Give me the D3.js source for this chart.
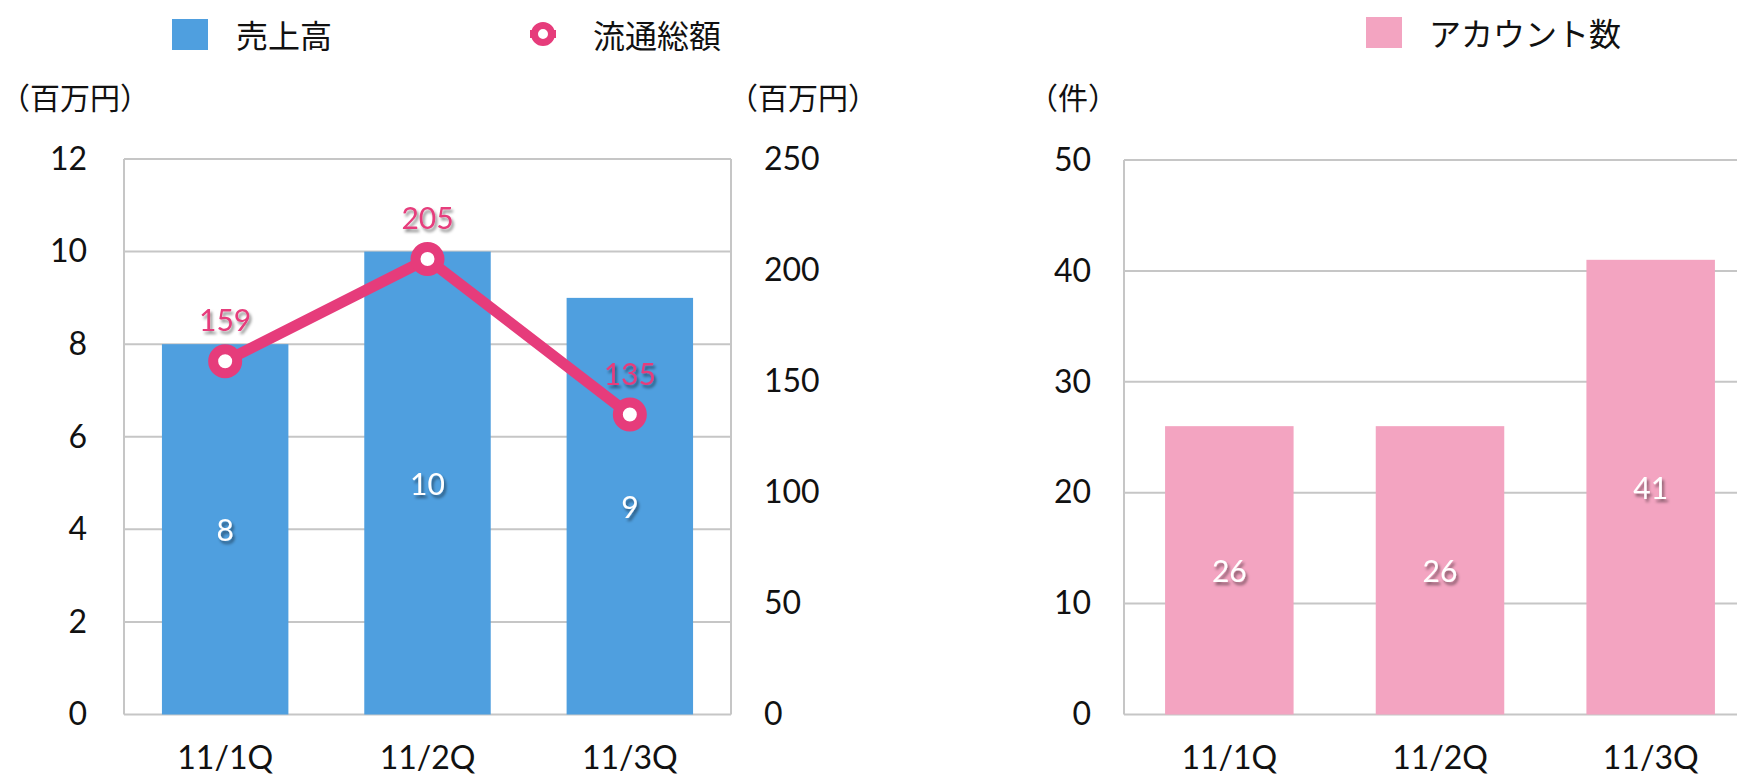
<!DOCTYPE html>
<html><head><meta charset="utf-8">
<script src="https://cdn.jsdelivr.net/npm/d3@7"></script>
<style>
body{margin:0;background:#fff;}
svg{display:block;}
</style></head>
<body><svg id="c" width="1737" height="776"></svg>
<script>
const categories = ["11/1Q","11/2Q","11/3Q"];
const salesValues = [8,10,9];          // 売上高 (百万円)
const grossValues = [159,205,135];     // 流通総額 (百万円)
const accountValues = [26,26,41];      // アカウント数 (件)
const leftTicks = [0,2,4,6,8,10,12];
const rightTicks = [0,50,100,150,200,250];
const accTicks = [0,10,20,30,40,50];

const svg = d3.select("#c");
const numFont = "Lato, 'DejaVu Sans', sans-serif";
const jpFont = "'Noto Sans CJK JP', sans-serif";
const blue = "#4F9FDF", pink = "#E63C7B", pinkBar = "#F3A4C1", grid = "#C6C6C6";
const tickSize = 32, labSize = 30;

const defs = svg.append("defs");
const f1 = defs.append("filter").attr("id","sh").attr("x","-30%").attr("y","-30%").attr("width","160%").attr("height","160%");
f1.append("feDropShadow").attr("dx",2).attr("dy",3).attr("stdDeviation",1.6).attr("flood-color","#000").attr("flood-opacity",0.45);

// ---------- Left chart ----------
const L = {x0:124, x1:731, y0:159, y1:714.5};
const xL = d3.scaleBand().domain(categories).range([L.x0,L.x1]).paddingInner(0.375).paddingOuter(0.1875);
const yL = d3.scaleLinear().domain([0,12]).range([L.y1,L.y0]);
const yR = d3.scaleLinear().domain([0,250]).range([L.y1,L.y0]);

const gL = svg.append("g");
gL.append("g").selectAll("line").data(leftTicks).join("line")
  .attr("x1",L.x0).attr("x2",L.x1).attr("y1",d=>yL(d)).attr("y2",d=>yL(d))
  .attr("stroke",grid).attr("stroke-width",2);
gL.append("line").attr("x1",L.x0).attr("x2",L.x0).attr("y1",L.y0).attr("y2",L.y1).attr("stroke",grid).attr("stroke-width",2);
gL.append("line").attr("x1",L.x1).attr("x2",L.x1).attr("y1",L.y0).attr("y2",L.y1).attr("stroke",grid).attr("stroke-width",2);

gL.selectAll("rect.bar").data(salesValues).join("rect").attr("class","bar")
  .attr("x",(d,i)=>xL(categories[i])).attr("width",xL.bandwidth())
  .attr("y",d=>yL(d)).attr("height",d=>yL(0)-yL(d)).attr("fill",blue);

// axes
const axL = d3.axisLeft(yL).tickValues(leftTicks).tickSize(0).tickPadding(37);
const gAxL = svg.append("g").attr("transform",`translate(${L.x0},0)`).call(axL);
const axR = d3.axisRight(yR).tickValues(rightTicks).tickSize(0).tickPadding(33);
const gAxR = svg.append("g").attr("transform",`translate(${L.x1},0)`).call(axR);
const axB = d3.axisBottom(xL).tickSize(0).tickPadding(32);
const gAxB = svg.append("g").attr("transform",`translate(0,${L.y1})`).call(axB);
[gAxL,gAxR,gAxB].forEach(g=>{
  g.select(".domain").remove();
  g.selectAll("text").attr("font-family",numFont).attr("font-size",tickSize).attr("fill","#111");
});
gAxB.selectAll("text").attr("dy","0.71em");

// bar labels
gL.selectAll("text.bl").data(salesValues).join("text").attr("class","bl")
  .attr("x",(d,i)=>xL(categories[i])+xL.bandwidth()/2).attr("y",d=>yL(d/2))
  .attr("text-anchor","middle").attr("dominant-baseline","central")
  .attr("font-family",numFont).attr("font-size",labSize).attr("fill","#fff").attr("filter","url(#sh)")
  .text(d=>d);

// line
const cx = (d,i)=>xL(categories[i])+xL.bandwidth()/2;
const line = d3.line().x((d,i)=>cx(d,i)).y(d=>yR(d));
gL.append("path").datum(grossValues).attr("d",line).attr("fill","none").attr("stroke",pink).attr("stroke-width",11).attr("stroke-linejoin","round");
gL.selectAll("circle.m").data(grossValues).join("circle").attr("class","m")
  .attr("cx",cx).attr("cy",d=>yR(d)).attr("r",12).attr("fill","#fff").attr("stroke",pink).attr("stroke-width",10);
gL.selectAll("text.ll").data(grossValues).join("text").attr("class","ll")
  .attr("x",cx).attr("y",d=>yR(d)-42)
  .attr("text-anchor","middle").attr("dominant-baseline","central")
  .attr("font-family",numFont).attr("font-size",labSize).attr("fill",pink).attr("filter","url(#sh)")
  .text(d=>d);

// unit labels
svg.append("text").attr("x",0).attr("y",96).attr("dominant-baseline","central")
  .attr("font-family",jpFont).attr("font-size",30).attr("fill","#111").text("（百万円）");
svg.append("text").attr("x",728).attr("y",96).attr("dominant-baseline","central")
  .attr("font-family",jpFont).attr("font-size",30).attr("fill","#111").text("（百万円）");
svg.append("text").attr("x",1028).attr("y",96).attr("dominant-baseline","central")
  .attr("font-family",jpFont).attr("font-size",30).attr("fill","#111").text("（件）");

// legends
svg.append("rect").attr("x",172).attr("y",19).attr("width",36).attr("height",31).attr("fill",blue);
svg.append("text").attr("x",236).attr("y",34).attr("dominant-baseline","central")
  .attr("font-family",jpFont).attr("font-size",32).attr("fill","#111").text("売上高");
svg.append("circle").attr("cx",543).attr("cy",34).attr("r",8.5).attr("fill","#fff").attr("stroke",pink).attr("stroke-width",7);
svg.append("line").attr("x1",530).attr("x2",534).attr("y1",34).attr("y2",34).attr("stroke",pink).attr("stroke-width",8);
svg.append("line").attr("x1",552).attr("x2",556).attr("y1",34).attr("y2",34).attr("stroke",pink).attr("stroke-width",8);
svg.append("text").attr("x",593).attr("y",34).attr("dominant-baseline","central")
  .attr("font-family",jpFont).attr("font-size",32).attr("fill","#111").text("流通総額");
svg.append("rect").attr("x",1366).attr("y",17).attr("width",36).attr("height",31).attr("fill",pinkBar);
svg.append("text").attr("x",1429).attr("y",32).attr("dominant-baseline","central")
  .attr("font-family",jpFont).attr("font-size",32).attr("fill","#111").text("アカウント数");

// ---------- Right chart ----------
const R = {x0:1124, x1:1756, y0:160, y1:714.5};
const xA = d3.scaleBand().domain(categories).range([R.x0,R.x1]).paddingInner(0.39).paddingOuter(0.195);
const yA = d3.scaleLinear().domain([0,50]).range([R.y1,R.y0]);
const gR = svg.append("g");
gR.append("g").selectAll("line").data(accTicks).join("line")
  .attr("x1",R.x0).attr("x2",R.x1).attr("y1",d=>yA(d)).attr("y2",d=>yA(d))
  .attr("stroke",grid).attr("stroke-width",2);
gR.append("line").attr("x1",R.x0).attr("x2",R.x0).attr("y1",R.y0).attr("y2",R.y1).attr("stroke",grid).attr("stroke-width",2);
gR.selectAll("rect.bar").data(accountValues).join("rect").attr("class","bar")
  .attr("x",(d,i)=>xA(categories[i])).attr("width",xA.bandwidth())
  .attr("y",d=>yA(d)).attr("height",d=>yA(0)-yA(d)).attr("fill",pinkBar);
gR.selectAll("text.bl").data(accountValues).join("text").attr("class","bl")
  .attr("x",(d,i)=>xA(categories[i])+xA.bandwidth()/2).attr("y",d=>yA(d/2))
  .attr("text-anchor","middle").attr("dominant-baseline","central")
  .attr("font-family",numFont).attr("font-size",labSize).attr("fill","#fff").attr("filter","url(#sh)")
  .text(d=>d);
const gAxA = svg.append("g").attr("transform",`translate(${R.x0},0)`).call(d3.axisLeft(yA).tickValues(accTicks).tickSize(0).tickPadding(33));
const gAxAB = svg.append("g").attr("transform",`translate(0,${R.y1})`).call(d3.axisBottom(xA).tickSize(0).tickPadding(32));
[gAxA,gAxAB].forEach(g=>{
  g.select(".domain").remove();
  g.selectAll("text").attr("font-family",numFont).attr("font-size",tickSize).attr("fill","#111");
});
gAxAB.selectAll("text").attr("dy","0.71em");
</script></body></html>
